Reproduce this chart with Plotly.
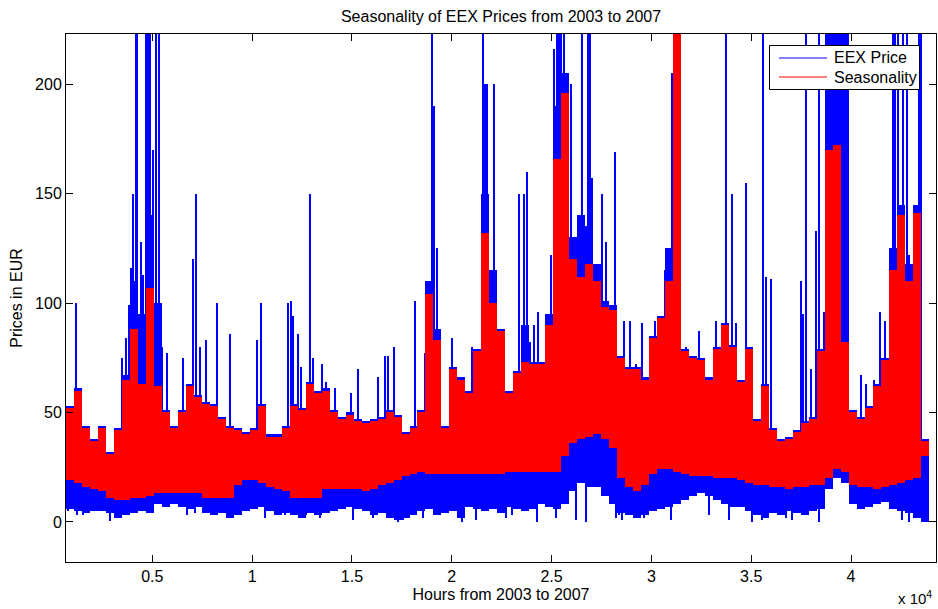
import plotly.graph_objects as go

# ---------------- data ----------------
# band centres in hours (each band is 400 hours wide)
band_hours = list(range(885, 43686, 400))

# Seasonality (red) envelope per band
season_top = [52, 60, 43, 37, 43, 31, 42, 65, 88, 63,
              107, 62, 50, 43, 50, 62, 57, 54, 53, 47,
              43, 42, 40, 42, 53, 39, 39, 43, 53, 51,
              63, 59, 60, 50, 47, 49, 46, 45, 46, 47,
              50, 48, 40, 43, 50, 104, 83, 43, 70, 65,
              59, 78, 132, 100, 87, 59, 68, 73, 72, 72,
              90, 166, 196, 120, 112, 118, 110, 98, 97, 75,
              70, 70, 65, 84, 93, 110, 240, 78, 75, 74,
              65, 79, 90, 80, 64, 79, 46, 62, 42, 37,
              38, 41, 45, 47, 78, 170, 172, 82, 50, 47,
              52, 62, 74, 115, 140, 110, 141, 37]
season_bottom = [19, 18, 16, 15, 14, 11, 10, 10, 11, 11,
                 12, 13, 13, 13, 13, 13, 13, 11, 11, 11,
                 11, 17, 19, 19, 18, 16, 15, 14, 11, 11,
                 11, 11, 15, 15, 15, 15, 15, 14, 15, 17,
                 18, 19, 21, 22, 23, 22, 22, 22, 22, 22,
                 22, 22, 22, 22, 22, 23, 23, 23, 23, 23,
                 23, 23, 30, 36, 38, 39, 40, 38, 34, 20,
                 16, 14, 17, 22, 24, 24, 23, 22, 21, 21,
                 21, 20, 20, 20, 19, 18, 17, 17, 16, 16,
                 15, 16, 16, 17, 17, 20, 24, 23, 17, 16,
                 16, 15, 16, 17, 18, 19, 20, 30]

# EEX Price (blue) dense envelope per band
price_bottom = [6, 5, 4, 5, 5, 4, 2, 3, 4, 5,
                4, 8, 7, 8, 7, 6, 7, 4, 3, 4,
                2, 3, 5, 6, 7, 5, 3, 4, 3, 2,
                4, 3, 4, 5, 6, 7, 6, 5, 3, 4,
                2, 1, 2, 3, 5, 6, 3, 4, 5, 2,
                7, 6, 5, 6, 4, 7, 6, 5, 6, 8,
                7, 6, 8, 14, 18, 16, 16, 12, 8, 4,
                3, 2, 3, 5, 6, 7, 8, 10, 12, 13,
                12, 10, 8, 7, 7, 5, 3, 2, 4, 3,
                5, 4, 3, 5, 6, 15, 20, 18, 8, 6,
                7, 8, 9, 6, 5, 4, 2, 0]
price_top = [53, 61, 44, 38, 44, 32, 43, 67, 110, 95,
             140, 100, 51, 44, 51, 63, 58, 55, 54, 48,
             44, 43, 41, 43, 54, 40, 40, 44, 54, 52,
             64, 60, 61, 51, 48, 50, 47, 46, 47, 48,
             51, 49, 41, 44, 51, 110, 88, 44, 71, 66,
             60, 79, 150, 115, 88, 60, 69, 90, 73, 73,
             95, 190, 205, 130, 140, 135, 118, 101, 99, 76,
             71, 71, 66, 85, 94, 125, 260, 79, 76, 75,
             66, 80, 91, 81, 65, 80, 47, 63, 43, 38,
             39, 42, 46, 48, 79, 260, 260, 260, 51, 48,
             53, 63, 75, 125, 145, 118, 145, 38]

# individual upward EEX price spikes (hour, peak price)
spike_hours = [1200, 3485, 3685, 3850, 3950, 4035, 4185, 4265, 4450, 4550,
               4700, 4800, 4885, 5050, 5200, 5325, 5500, 5735, 6550, 7050,
               7185, 7400, 7685, 8250, 8900, 10235, 10450, 11785, 11935, 12035,
               12300, 12485, 12900, 13050, 13500, 13735, 14150, 14985, 15300, 16300,
               16650, 16800, 17100, 18150, 18650, 18850, 19000, 19100, 19250, 20000,
               21000, 21600, 21675, 21800, 22115, 23400, 23650, 23785, 23950, 24150,
               24350, 24900, 24985, 25150, 25300, 25400, 25500, 25650, 25775, 26000,
               26250, 26535, 26850, 26925, 27050, 27535, 27750, 28165, 28650, 28950,
               29250, 29535, 30200, 30700, 30900, 31025, 31300, 31735, 32400, 33235,
               33735, 34050, 34235, 34735, 35600, 35735, 35985, 37485, 37600, 37750,
               37985, 38250, 38400, 38650, 39850, 40500, 40750, 41150, 41450, 41735,
               42100, 42225, 42375, 42625, 42800, 42900, 43050, 43400, 43525]
spike_values = [100, 75, 84, 99, 116, 150, 260, 260, 128, 113,
                260, 260, 260, 170, 260, 260, 80, 77, 75, 120,
                150, 80, 83, 100, 86, 83, 100, 100, 101, 94,
                86, 71, 150, 75, 72, 64, 61, 59, 70, 66,
                76, 76, 80, 101, 77, 99, 260, 190, 125, 84,
                80, 260, 200, 200, 200, 150, 150, 160, 82, 90,
                96, 82, 122, 216, 260, 260, 260, 260, 150, 200,
                98, 260, 260, 260, 157, 150, 128, 169, 92, 92,
                72, 91, 92, 115, 112, 205, 130, 80, 87, 92,
                260, 150, 91, 155, 260, 112, 111, 110, 95, 260,
                70, 133, 260, 96, 98, 67, 63, 65, 96, 92,
                260, 260, 260, 260, 260, 122, 96, 260, 260]
spike_base = 20

# individual downward EEX price dips (hour, lowest price)
dip_hours = [800, 1250, 1550, 2900, 3150, 3650, 4300, 6750, 7150, 8750,
             9050, 10650, 11650, 12735, 13150, 13400, 15050, 16050, 17300, 17550,
             18000, 18550, 20500, 21250, 22750, 23050, 24300, 25250, 26250, 26750,
             28250, 28400, 28550, 29650, 31000, 32900, 33900, 35050, 35550, 36750,
             37050, 38400, 42550, 42900, 43650]
dip_values = [5, 3, 3, 0.5, 3, 3, 5, 3, 4, 2,
              3, 2, 3, 3, 4, 2, 1, 2, 0, 1,
              3, 2, 0, 1, 2, 3, 0, 2, 1, 0,
              2, 3, 1, 2, 1, 3, 1, 0, 1, 2,
              1, 0, 1, 0, 0]

x_tick_vals = [5000, 10000, 15000, 20000, 25000, 30000, 35000, 40000]
x_tick_text = ["0.5", "1", "1.5", "2", "2.5", "3", "3.5", "4"]
y_tick_vals = [0, 50, 100, 150, 200]

# ---------------- figure ----------------
BLUE = "#0000FF"
RED = "#FF0000"
FONT = "Liberation Sans, Arial, Helvetica, sans-serif"

fig = go.Figure()

# EEX price: dense band, spikes and dips (all bars so that the
# seasonality trace added afterwards is painted on top of them)
fig.add_trace(go.Bar(
    x=band_hours, base=price_bottom,
    y=[t - b for t, b in zip(price_top, price_bottom)],
    width=400, marker=dict(color=BLUE, line=dict(width=0)),
    name="EEX Price", showlegend=False, hoverinfo="skip"))

fig.add_trace(go.Bar(
    x=spike_hours, base=[spike_base] * len(spike_hours),
    y=[v - spike_base for v in spike_values],
    width=70, marker=dict(color=BLUE, line=dict(width=0)),
    name="EEX Price", showlegend=False, hoverinfo="skip"))

fig.add_trace(go.Bar(
    x=dip_hours, base=dip_values,
    y=[spike_base - v for v in dip_values],
    width=70, marker=dict(color=BLUE, line=dict(width=0)),
    name="EEX Price", showlegend=False, hoverinfo="skip"))

fig.add_trace(go.Bar(
    x=band_hours, base=season_bottom,
    y=[t - b for t, b in zip(season_top, season_bottom)],
    width=400, marker=dict(color=RED, line=dict(width=0)),
    name="Seasonality", showlegend=False, hoverinfo="skip"))

L, R, T, B = 66, 2, 34, 47
W, H = 938, 609
pw, ph = W - L - R, H - T - B


def px(xp):
    return (xp - L) / pw


def py(yp):
    return (H - B - yp) / ph


axis_common = dict(showline=True, linecolor="black", linewidth=1, mirror="ticks",
                   ticks="inside", ticklen=7, tickcolor="black", tickwidth=1,
                   showgrid=False, zeroline=False,
                   tickfont=dict(family=FONT, size=16, color="black"))

fig.update_layout(
    width=W, height=H,
    margin=dict(l=L, r=R, t=T, b=B, autoexpand=False),
    paper_bgcolor="white", plot_bgcolor="white",
    barmode="overlay", bargap=0,
    showlegend=False,
    font=dict(family=FONT, size=16, color="black"),
    title=dict(text="Seasonality of EEX Prices from 2003 to 2007",
               x=0.5, xref="paper", xanchor="center",
               y=1 - 16 / H, yref="container", yanchor="middle",
               font=dict(family=FONT, size=16, color="black")),
    xaxis=dict(range=[680, 44255], tickvals=x_tick_vals, ticktext=x_tick_text,
               title=dict(text="Hours from 2003 to 2007", standoff=4,
                          font=dict(family=FONT, size=16)),
               **axis_common),
    yaxis=dict(range=[-18.3, 222.9], tickvals=y_tick_vals,
               title=dict(text="Prices in EUR", standoff=8,
                          font=dict(family=FONT, size=16)),
               **axis_common),
)

# legend box drawn like the original
fig.add_shape(type="rect", xref="paper", yref="paper",
              x0=px(769.5), x1=px(919.5), y0=py(89.5), y1=py(45.5),
              line=dict(color="black", width=1), fillcolor="white", layer="above")
fig.add_shape(type="line", xref="paper", yref="paper",
              x0=px(779), x1=px(827), y0=py(58), y1=py(58),
              line=dict(color=BLUE, width=1), layer="above")
fig.add_shape(type="line", xref="paper", yref="paper",
              x0=px(779), x1=px(827), y0=py(77), y1=py(77),
              line=dict(color=RED, width=1), layer="above")
fig.add_annotation(xref="paper", yref="paper", x=px(832), y=py(58),
                   xanchor="left", yanchor="middle", showarrow=False,
                   text="EEX Price", font=dict(family=FONT, size=16, color="black"))
fig.add_annotation(xref="paper", yref="paper", x=px(832), y=py(77),
                   xanchor="left", yanchor="middle", showarrow=False,
                   text="Seasonality", font=dict(family=FONT, size=16, color="black"))

# exponent label of the x axis
fig.add_annotation(xref="paper", yref="paper", x=px(934), y=py(597),
                   xanchor="right", yanchor="middle", showarrow=False,
                   text="x 10<sup>4</sup>", font=dict(family=FONT, size=15, color="black"))

fig.write_html("out.html")
